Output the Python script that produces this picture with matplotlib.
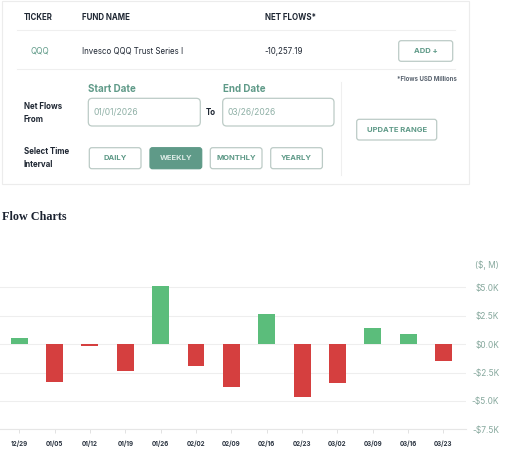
import matplotlib
matplotlib.use("Agg")
from matplotlib import pyplot as plt
from matplotlib.patches import FancyBboxPatch, Rectangle

# weekly net flows ($, M)
weeks = ["12/29", "01/05", "01/12", "01/19", "01/26", "02/02", "02/09",
         "02/16", "02/23", "03/02", "03/09", "03/16", "03/23"]
flows = [0.50, -3.35, -0.15, -2.38, 5.12, -1.94, -3.76,
         2.68, -4.62, -3.41, 1.41, 0.85, -1.47]
y_ticks = [-7.5, -5.0, -2.5, 0.0, 2.5, 5.0]

ticker = "QQQ"
fund_name = "Invesco QQQ Trust Series I"
net_flows = "-10,257.19"
start_date = "01/01/2026"
end_date = "03/26/2026"
intervals = ["DAILY", "WEEKLY", "MONTHLY", "YEARLY"]
selected = "WEEKLY"

TEAL = "#5f9a88"
DARK = "#1f2733"
BORDER = "#bccbc6"
GREEN = "#5bbd7b"
RED = "#d53f3f"
LABEL = "#86a89d"

plt.rcParams["font.family"] = ["Inter", "DejaVu Sans"]

W, H = 512, 459
fig = plt.figure(figsize=(W / 100, H / 100), dpi=100)

# ---- top panel, drawn in pixel coords
ui = fig.add_axes([0, 0, 1, 1])
ui.set_xlim(0, W)
ui.set_ylim(H, 0)
ui.axis("off")

ui.add_patch(Rectangle((2, 1), 467, 183, fill=False, ec="#ececec", lw=0.8))
ui.plot([17, 455], [30, 30], color="#efefef", lw=0.8)
ui.plot([17, 455], [69.3, 69.3], color="#efefef", lw=0.8)
ui.plot([340.7, 340.7], [81.7, 175], color="#efefef", lw=0.8)

for x, txt in [(24, "TICKER"), (82, "FUND NAME"), (264.7, "NET FLOWS*")]:
    ui.text(x, 17.3, txt, fontsize=5.7, fontweight="bold", color=DARK, va="center")

ui.text(39.5, 51.3, ticker, fontsize=5.8, color=TEAL, va="center", ha="center")
ui.text(82, 51.3, fund_name, fontsize=5.7, color=DARK, va="center")
ui.text(264.7, 51.3, net_flows, fontsize=5.7, color=DARK, va="center")


def button(x0, y0, x1, y1, label, fill=False):
    fc = TEAL if fill else "white"
    ec = TEAL if fill else BORDER
    ui.add_patch(FancyBboxPatch((x0, y0), x1 - x0, y1 - y0,
                                boxstyle="round,pad=0,rounding_size=2.5",
                                fc=fc, ec=ec, lw=0.9))
    ui.text((x0 + x1) / 2, (y0 + y1) / 2, label, fontsize=5.5, fontweight="bold",
            color="#dcebe6" if fill else TEAL, ha="center", va="center")


button(398.7, 40.7, 452.7, 61.3, "ADD +")
ui.text(456.7, 79.3, "*Flows USD Millions", fontsize=4.4, fontweight="bold",
        color="#5a6470", ha="right", va="center")

ui.text(88.3, 89.3, "Start Date", fontsize=7.0, fontweight="bold", color=TEAL, va="center")
ui.text(222.7, 89.3, "End Date", fontsize=7.0, fontweight="bold", color=TEAL, va="center")
for x0, x1, d in [(88.3, 200.3, start_date), (222.7, 334, end_date)]:
    ui.add_patch(FancyBboxPatch((x0, 98.3), x1 - x0, 27.7,
                                boxstyle="round,pad=0,rounding_size=4",
                                fc="white", ec=BORDER, lw=0.9))
    ui.text(x0 + 5, 112.3, d, fontsize=6.1, color="#8fb0a6", va="center")
ui.text(205.7, 112.3, "To", fontsize=5.7, fontweight="bold", color=DARK, va="center")

ui.text(24, 112.8, "Net Flows\nFrom", fontsize=5.7, fontweight="bold", color=DARK,
        va="center", linespacing=1.5)
ui.text(24, 158.2, "Select Time\nInterval", fontsize=5.7, fontweight="bold", color=DARK,
        va="center", linespacing=1.5)

button(356.7, 119.3, 436.7, 140, "UPDATE RANGE")

bx = [89.3, 150, 210.3, 270.7]
for x0, name in zip(bx, intervals):
    button(x0, 147.7, x0 + 51.7, 168.7, name, fill=(name == selected))

ui.text(2, 216.7, "Flow Charts", fontsize=8.7, fontweight="bold", color="#1b2230",
        family="Liberation Serif", va="center")

# ---- bar chart
px = 11.36  # pixels per $1K
bottom_px = 429.3
top_val = 6.5
ax = fig.add_axes([0, (H - bottom_px) / H, 466 / W, (top_val + 7.5) * px / H])
ax.set_facecolor("none")

xs = list(range(len(weeks)))
colors = [GREEN if v >= 0 else RED for v in flows]
ax.bar(xs, flows, width=0.48, color=colors, zorder=3)

ax.set_xlim(-0.546, 12.64)
ax.set_ylim(-7.5, top_val)
ax.set_yticks(y_ticks)
ax.set_yticklabels([("-" if v < 0 else "") + "$%.1fK" % abs(v) for v in y_ticks])
ax.yaxis.tick_right()
ax.tick_params(axis="y", length=0, pad=24, labelsize=6.0, labelcolor=LABEL)
for lab in ax.get_yticklabels():
    lab.set_horizontalalignment("right")
ax.grid(axis="y", color="#eeeeee", lw=0.8, zorder=0)

ax.set_xticks(xs)
ax.set_xticklabels(weeks, fontweight="bold")
ax.tick_params(axis="x", length=3, width=0.6, color="#dddddd", pad=5,
               labelsize=4.5, labelcolor="#2a3340")

for s in ["top", "right", "left"]:
    ax.spines[s].set_visible(False)
ax.spines["bottom"].set_color("#e6e6e6")
ax.spines["bottom"].set_linewidth(0.8)

ax.text(499 / 466, (5.0 + 1.9 + 7.5) / (top_val + 7.5), "($, M)", transform=ax.transAxes,
        fontsize=6.0, color=LABEL, ha="right", va="center", clip_on=False)

fig.savefig("out.png", dpi=100)
